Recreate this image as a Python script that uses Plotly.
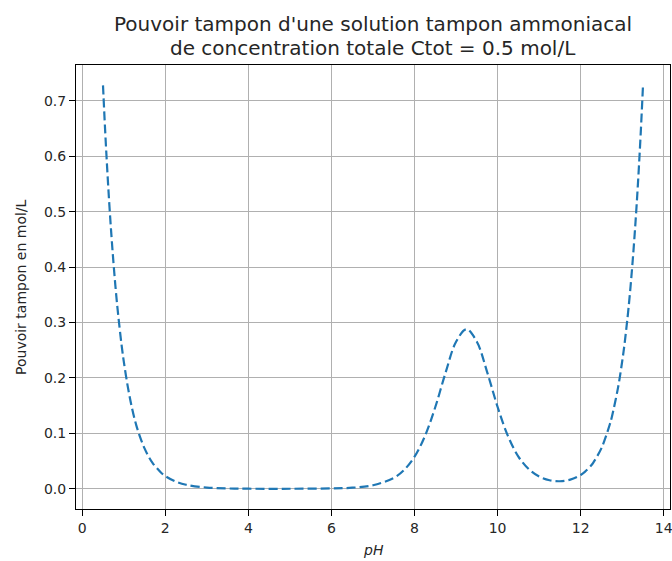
import plotly.graph_objects as go

# pH values and buffer capacity (mol/L)
ph = [0.5, 0.55, 0.6, 0.65, 0.7, 0.75, 0.8, 0.85, 0.9, 0.95, 1.0, 1.1, 1.2, 1.3, 1.4,
      1.5, 1.6, 1.7, 1.8, 1.9, 2.0, 2.25, 2.5, 3.0, 3.5, 4.0, 5.0, 6.0, 6.5, 7.0,
      7.5, 7.75, 8.0, 8.25, 8.5, 8.75, 9.0, 9.25, 9.5, 9.75, 10.0, 10.25, 10.5,
      10.75, 11.0, 11.25, 11.5, 11.75, 12.0, 12.1, 12.25, 12.3, 12.5, 12.7, 12.75,
      12.9, 13.0, 13.05, 13.1, 13.15, 13.2, 13.25, 13.3, 13.35, 13.4, 13.45, 13.5]
beta = [0.728, 0.649, 0.579, 0.516, 0.460, 0.410, 0.365, 0.325, 0.290, 0.258, 0.230,
        0.183, 0.145, 0.115, 0.092, 0.073, 0.058, 0.046, 0.037, 0.029, 0.023, 0.013,
        0.0073, 0.0023, 0.0007, 0.0002, 0.0001, 0.0007, 0.0020, 0.0064, 0.0198,
        0.0342, 0.0580, 0.0952, 0.1476, 0.2102, 0.2653, 0.2879, 0.2653, 0.2102,
        0.1476, 0.0952, 0.0582, 0.0355, 0.0221, 0.0154, 0.0137, 0.0166, 0.0250,
        0.0306, 0.0420, 0.0469, 0.0735, 0.116, 0.1298, 0.183, 0.2305, 0.258, 0.290,
        0.325, 0.365, 0.410, 0.460, 0.516, 0.579, 0.649, 0.728]

x_ticks = [0, 2, 4, 6, 8, 10, 12, 14]
y_ticks = [0.0, 0.1, 0.2, 0.3, 0.4, 0.5, 0.6, 0.7]

title_line1 = "Pouvoir tampon d'une solution tampon ammoniacal"
title_line2 = "de concentration totale Ctot = 0.5 mol/L"
x_label = "<i>pH</i>"
y_label = "Pouvoir tampon en mol/L"

font = "DejaVu Sans"
txt_color = "#262626"

fig = go.Figure()
fig.add_trace(go.Scatter(
    x=ph, y=beta, mode="lines", line_shape="spline",
    line=dict(color="#1f77b4", width=2.2, dash="9px,4px"),
    showlegend=False,
))

axis_common = dict(
    showline=True, linecolor="black", linewidth=1, mirror=True,
    ticks="outside", ticklen=6, tickwidth=1, tickcolor="black",
    showgrid=True, gridcolor="#b0b0b0", gridwidth=1,
    zeroline=False, automargin=False, ticklabeloverflow="allow",
    tickfont=dict(family=font, size=14, color=txt_color),
)

fig.update_layout(
    width=672, height=561,
    margin=dict(l=76, r=2, t=65, b=52),
    paper_bgcolor="white", plot_bgcolor="white",
    xaxis=dict(range=[-0.15, 14.15], tickvals=x_ticks,
               ticktext=[str(v) for v in x_ticks], **axis_common),
    yaxis=dict(range=[-0.0364, 0.7647], tickvals=y_ticks,
               ticktext=[f"{v:.1f}" for v in y_ticks], **axis_common),
    annotations=[
        dict(text=title_line1, xref="paper", yref="paper", x=0.5, y=1.0,
             yshift=41, xanchor="center", yanchor="middle", showarrow=False,
             font=dict(family=font, size=20, color=txt_color)),
        dict(text=title_line2, xref="paper", yref="paper", x=0.5, y=1.0,
             yshift=17, xanchor="center", yanchor="middle", showarrow=False,
             font=dict(family=font, size=20, color=txt_color)),
        dict(text=x_label, xref="paper", yref="paper", x=0.5, y=0,
             yshift=-41, xanchor="center", yanchor="middle", showarrow=False,
             font=dict(family=font, size=14, color=txt_color)),
        dict(text=y_label, xref="paper", yref="paper", x=0, y=0.5,
             xshift=-55, xanchor="center", yanchor="middle", showarrow=False,
             textangle=-90,
             font=dict(family=font, size=14, color=txt_color)),
    ],
)

fig.write_html("out.html", config={"displayModeBar": False},
               post_script="document.body.style.margin='0';")
